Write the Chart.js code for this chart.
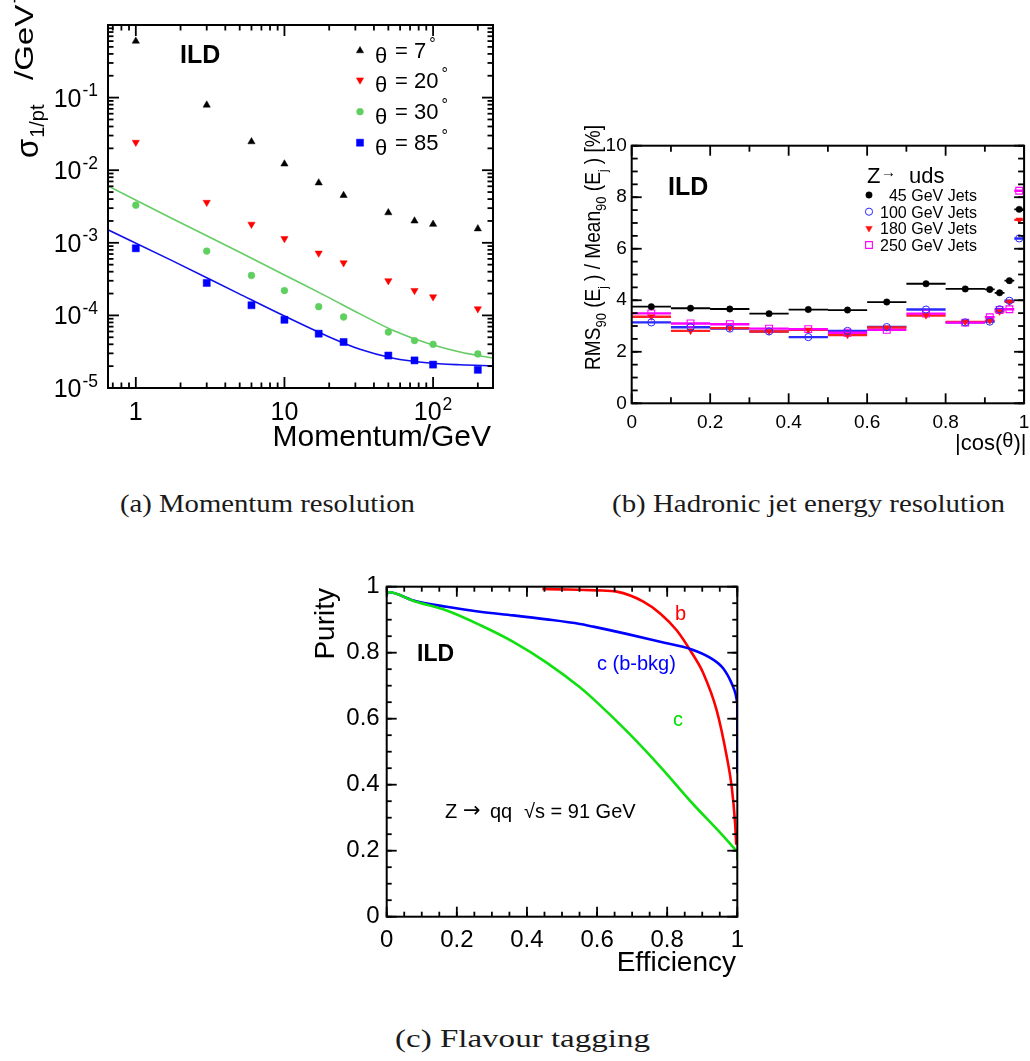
<!DOCTYPE html>
<html>
<head>
<meta charset="utf-8">
<script src="https://cdn.jsdelivr.net/npm/chart.js@4.4.1/dist/chart.umd.min.js"></script>
<style>
html, body { margin: 0; padding: 0; background: #fff; }
body { width: 1030px; height: 1061px; position: relative; overflow: hidden; }
canvas { position: absolute; }
.cap { position: absolute; font-family: "Liberation Serif", "Times New Roman", serif; font-size: 25px;
       line-height: 26px; color: #1a1a1a; white-space: nowrap; transform-origin: 0 0; }
</style>
</head>
<body>
<canvas id="momentum" width="510" height="470" style="left:0px;top:0px"></canvas>
<canvas id="jets" width="510" height="380" style="left:520px;top:100px"></canvas>
<canvas id="flavour" width="470" height="430" style="left:290px;top:560px"></canvas>
<div class="cap" data-w="295" style="left:120px;top:491px">(a) Momentum resolution</div>
<div class="cap" data-w="393" style="left:612px;top:491px">(b) Hadronic jet energy resolution</div>
<div class="cap" data-w="255" style="left:395px;top:1026px">(c) Flavour tagging</div>
<script>
// ---- (a) momentum resolution vs momentum, four polar angles
const momentum = [1, 3, 6, 10, 17, 25, 50, 75, 100, 200];
const anglesDeg = [7, 20, 30, 85];
const theta7  = [0.60, 0.079, 0.0247, 0.0122, 0.0067, 0.0045, 0.0026, 0.0020, 0.0018, 0.00156];
const theta20 = [0.0242, 0.0036, 0.0018, 0.00114, 0.00072, 0.00053, 0.00030, 0.00022, 0.00018, 0.000123];
const theta30 = [0.0033, 0.00077, 0.000355, 0.00022, 0.000132, 0.000095, 0.000059, 0.000045, 0.000040, 0.0000295];
const theta85 = [0.00084, 0.00028, 0.000138, 0.000087, 0.000056, 0.000043, 0.000028, 0.000024, 0.000021, 0.0000178];
// resolution curves for 30 and 85 degrees
const fitMomentum = [0.65, 1.74, 4.89, 10.07, 19.2, 32.2, 54.0, 90.7, 152, 253];
const fit30 = [0.00608, 0.00218, 0.000758, 0.000357, 0.000183, 0.000105, 0.0000619, 0.0000416, 0.0000313, 0.0000258];
const fit85 = [0.00151, 0.000573, 0.000201, 0.0000972, 0.0000524, 0.0000341, 0.0000257, 0.0000223, 0.0000209, 0.0000202];
const momTicks = [1, 10, 100];
const momTickText = [['1', ''], ['10', ''], ['10', '2']];
const resTicks = [1e-5, 1e-4, 1e-3, 1e-2, 1e-1];
const resTickExp = ['-5', '-4', '-3', '-2', '-1'];

// ---- (b) jet energy resolution vs |cos(theta)|
const jetBinLo = [0, 0.1, 0.2, 0.3, 0.4, 0.5, 0.6, 0.7, 0.8, 0.9, 0.925, 0.95, 0.975];
const jetBinHi = [0.1, 0.2, 0.3, 0.4, 0.5, 0.6, 0.7, 0.8, 0.9, 0.925, 0.95, 0.975, 1.0];
const cosTheta = [0.05, 0.15, 0.25, 0.35, 0.45, 0.55, 0.65, 0.75, 0.85, 0.9125, 0.9375, 0.9625, 0.9875];
const jets45  = [3.75, 3.69, 3.66, 3.48, 3.64, 3.62, 3.93, 4.64, 4.44, 4.42, 4.29, 4.76, 7.53];
const jets100 = [3.14, 2.95, 2.90, 2.79, 2.57, 2.81, 2.96, 3.64, 3.14, 3.17, 3.65, 3.98, 6.40];
const jets180 = [3.36, 2.81, 2.92, 2.79, 2.85, 2.65, 2.94, 3.41, 3.16, 3.21, 3.56, 3.94, 7.12];
const jets250 = [3.49, 3.10, 3.07, 2.90, 2.88, 2.74, 2.85, 3.48, 3.13, 3.34, 3.62, 3.65, 8.25];
const jetLabels = ['45 GeV Jets', '100 GeV Jets', '180 GeV Jets', '250 GeV Jets'];

// ---- (c) purity vs efficiency
const effB  = [0.444, 0.494, 0.600, 0.656, 0.732, 0.780, 0.827, 0.870, 0.903, 0.941, 0.970, 0.984, 0.9937, 0.997];
const purB  = [0.993, 0.992, 0.989, 0.985, 0.955, 0.919, 0.868, 0.800, 0.738, 0.626, 0.485, 0.394, 0.283, 0.218];
const effCb = [0, 0.007, 0.076, 0.171, 0.266, 0.361, 0.456, 0.551, 0.589, 0.684, 0.780, 0.870, 0.922, 0.960, 0.984, 0.995, 1.0, 1.0];
const purCb = [0.978, 0.983, 0.958, 0.939, 0.924, 0.913, 0.901, 0.887, 0.879, 0.857, 0.833, 0.810, 0.785, 0.752, 0.707, 0.675, 0.647, 0.435];
const effC  = [0, 0.007, 0.076, 0.171, 0.266, 0.361, 0.456, 0.551, 0.589, 0.684, 0.780, 0.875, 0.951, 1.0, 1.0];
const purC  = [0.978, 0.983, 0.957, 0.928, 0.884, 0.833, 0.770, 0.695, 0.660, 0.563, 0.455, 0.340, 0.255, 0.197, 0.172];

Chart.defaults.font.family = '"Liberation Sans", Arial, Helvetica, sans-serif';
Chart.defaults.color = '#000';
Chart.defaults.animation = false;
Chart.defaults.events = [];
Chart.defaults.plugins.legend.display = false;
Chart.defaults.plugins.tooltip.enabled = false;

const SANS = '"Liberation Sans", Arial, Helvetica, sans-serif';
const F = (size, bold) => (bold ? 'bold ' : '') + size + 'px ' + SANS;
const toPoints = (xs, ys) => xs.map((x, i) => ({ x, y: ys[i] }));
const tickText = v => String(Math.round(v * 100) / 100);

// pins the plot frame to fixed pixel edges inside the canvas
function frameBox(W, H, L, T, R, B) {
  const zero = s => { s.paddingLeft = s.paddingRight = s.paddingTop = s.paddingBottom = 0; };
  return {
    padding: { left: 0, top: T, right: W - R, bottom: 0 },
    fitX: s => { s.height = H - B; zero(s); },
    fitY: s => { s.width = L; zero(s); }
  };
}

function logMinors(lo, hi) {
  const out = [];
  for (let d = -6; d <= 3; d++) {
    for (let m = 2; m <= 9; m++) {
      const v = m * Math.pow(10, d);
      if (v > lo && v < hi) out.push(v);
    }
  }
  return out;
}
function linSteps(lo, hi, step) {
  const out = [];
  for (let i = 0; lo + i * step <= hi + 1e-9; i++) out.push(+(lo + i * step).toFixed(6));
  return out;
}

// inward tick marks on all four sides plus the box
function frameTicks(t) {
  return {
    id: 'frameTicks',
    afterDraw(chart) {
      const ctx = chart.ctx;
      const a = chart.chartArea;
      const sx = chart.scales.x;
      const sy = chart.scales.y;
      ctx.save();
      ctx.strokeStyle = '#000';
      ctx.lineWidth = 1.8;
      const seg = (x1, y1, x2, y2) => {
        ctx.beginPath();
        ctx.moveTo(x1, y1);
        ctx.lineTo(x2, y2);
        ctx.stroke();
      };
      const tickX = (v, len) => {
        const p = sx.getPixelForValue(v);
        seg(p, a.bottom, p, a.bottom - len);
        seg(p, a.top, p, a.top + len);
      };
      const tickY = (v, len) => {
        const p = sy.getPixelForValue(v);
        seg(a.left, p, a.left + len, p);
        seg(a.right, p, a.right - len, p);
      };
      t.xMajor.forEach(v => tickX(v, t.majorLen));
      t.xMinor.forEach(v => tickX(v, t.minorLen));
      t.yMajor.forEach(v => tickY(v, t.majorLen));
      t.yMinor.forEach(v => tickY(v, t.minorLen));
      ctx.lineWidth = 2;
      ctx.strokeRect(a.left, a.top, a.right - a.left, a.bottom - a.top);
      ctx.restore();
    }
  };
}

function text(ctx, s, x, y, font, color, align) {
  ctx.font = font;
  ctx.fillStyle = color || '#000';
  ctx.textAlign = align || 'left';
  ctx.textBaseline = 'alphabetic';
  ctx.fillText(s, x, y);
}

// runs of text with their own size and baseline shift, optionally rotated and stretched
function rich(ctx, segs, x, y, rot, fitLen, stretch) {
  ctx.save();
  ctx.translate(x, y);
  ctx.rotate(rot || 0);
  ctx.textAlign = 'left';
  ctx.textBaseline = 'alphabetic';
  let w = 0;
  segs.forEach(s => { ctx.font = s.font; w += ctx.measureText(s.t).width + (s.gap || 0); });
  if (fitLen) ctx.scale(fitLen / w, 1);
  else if (stretch) ctx.scale(stretch, 1);
  let cx = 0;
  segs.forEach(s => {
    ctx.font = s.font;
    ctx.fillStyle = s.color || '#000';
    cx += s.gap || 0;
    ctx.fillText(s.t, cx, s.dy || 0);
    cx += ctx.measureText(s.t).width;
  });
  ctx.restore();
}

function powLabel(ctx, base, exp, x, baseline, align, size) {
  ctx.font = F(size);
  const wb = ctx.measureText(base).width;
  ctx.font = F(size * 0.7);
  const we = exp ? ctx.measureText(exp).width + 1 : 0;
  const x0 = align === 'right' ? x - wb - we : x - (wb + we) / 2;
  text(ctx, base, x0, baseline, F(size));
  if (exp) text(ctx, exp, x0 + wb + 1, baseline - size * 0.42, F(size * 0.7));
}

function marker(ctx, style, x, y) {
  ctx.save();
  ctx.fillStyle = style.fill;
  ctx.strokeStyle = style.stroke;
  ctx.lineWidth = style.borderWidth;
  Chart.helpers.drawPoint(ctx, { pointStyle: style.pointStyle, rotation: style.rotation || 0,
    radius: style.radius, borderWidth: style.borderWidth }, x, y);
  ctx.restore();
}

// ================= (a) =================
const boxA = frameBox(510, 470, 108, 25, 493, 388);
const styleA = [
  { pointStyle: 'triangle', radius: 4.2, rotation: 0, fill: '#000', stroke: '#000', borderWidth: 0.5 },
  { pointStyle: 'triangle', radius: 4.2, rotation: 180, fill: '#ff0000', stroke: '#ff0000', borderWidth: 0.5 },
  { pointStyle: 'circle', radius: 3.4, rotation: 0, fill: '#5fcf5f', stroke: '#5fcf5f', borderWidth: 0.5 },
  { pointStyle: 'rect', radius: 5, rotation: 0, fill: '#0000ff', stroke: '#0000ff', borderWidth: 0.5 }
];
const seriesA = [theta7, theta20, theta30, theta85];

const momentumLabels = {
  id: 'momentumLabels',
  afterDraw(chart) {
    const { ctx, scales: { x, y } } = chart;
    ctx.save();
    momTicks.forEach((v, i) => powLabel(ctx, momTickText[i][0], momTickText[i][1], x.getPixelForValue(v), 420, 'center', 25));
    resTicks.forEach((v, i) => powLabel(ctx, '10', resTickExp[i], 98, y.getPixelForValue(v) + 9, 'right', 25));
    text(ctx, 'Momentum/GeV', 491, 446, F(30), '#000', 'right');
    rich(ctx, [
      { t: 'σ', font: F(31) },
      { t: '1/pt', font: F(20), dy: 5.5, gap: 1 }
    ], 38, 158, -Math.PI / 2);
    rich(ctx, [
      { t: '/GeV', font: F(26) },
      { t: '-1', font: F(18), dy: -13, gap: 1 }
    ], 33, 80, -Math.PI / 2, 0, 1.27);
    text(ctx, 'ILD', 180, 63, F(25, true));
    const rows = [50.7, 80, 111.7, 142.7];
    anglesDeg.forEach((deg, i) => {
      marker(ctx, styleA[i], 360, rows[i]);
      text(ctx, 'θ', 375, rows[i] + 12, F(22));
      ctx.font = F(22);
      const w = ctx.measureText('= ' + deg).width;
      text(ctx, '= ' + deg, 395, rows[i] + 7.5, F(22));
      text(ctx, '°', 398 + w, rows[i] - 1.5, F(16));
    });
    ctx.restore();
  }
};

new Chart(document.getElementById('momentum'), {
  type: 'scatter',
  data: {
    datasets: [
      ...seriesA.map((vals, i) => ({
        label: 'θ = ' + anglesDeg[i] + '°',
        data: toPoints(momentum, vals),
        pointStyle: styleA[i].pointStyle,
        pointRotation: styleA[i].rotation,
        pointRadius: styleA[i].radius,
        pointBackgroundColor: styleA[i].fill,
        pointBorderColor: styleA[i].stroke,
        pointBorderWidth: styleA[i].borderWidth
      })),
      { label: 'fit 30', data: toPoints(fitMomentum, fit30), showLine: true, pointRadius: 0,
        borderColor: '#66cc66', borderWidth: 1.6, cubicInterpolationMode: 'monotone' },
      { label: 'fit 85', data: toPoints(fitMomentum, fit85), showLine: true, pointRadius: 0,
        borderColor: '#1010ee', borderWidth: 1.6, cubicInterpolationMode: 'monotone' }
    ]
  },
  options: {
    responsive: false,
    layout: { padding: boxA.padding },
    scales: {
      x: { type: 'logarithmic', min: 0.65, max: 253, afterFit: boxA.fitX,
           grid: { display: false, drawTicks: false }, border: { display: false }, ticks: { display: false } },
      y: { type: 'logarithmic', min: 1e-5, max: 1, afterFit: boxA.fitY,
           grid: { display: false, drawTicks: false }, border: { display: false }, ticks: { display: false } }
    }
  },
  plugins: [frameTicks({
    xMajor: momTicks, xMinor: logMinors(0.65, 253),
    yMajor: resTicks, yMinor: logMinors(1e-5, 1),
    majorLen: 11, minorLen: 5.5
  }), momentumLabels]
});

// ================= (b) =================
const boxB = frameBox(510, 380, 111.7, 45.7, 506, 303.3);
const styleB = [
  { pointStyle: 'circle', radius: 3.2, rotation: 0, fill: '#000', stroke: '#000', borderWidth: 0.5, bar: '#000', barWidth: 1.8 },
  { pointStyle: 'circle', radius: 3.6, rotation: 0, fill: 'rgba(0,0,0,0)', stroke: '#2a2aff', borderWidth: 1, bar: '#2a2aff', barWidth: 2.4 },
  { pointStyle: 'triangle', radius: 3.8, rotation: 180, fill: '#ff1010', stroke: '#ff1010', borderWidth: 0.5, bar: '#ff2020', barWidth: 2.4 },
  { pointStyle: 'rect', radius: 4.8, rotation: 0, fill: 'rgba(0,0,0,0)', stroke: '#ff00ff', borderWidth: 1.1, bar: '#ff00ff', barWidth: 2.4 }
];
const seriesB = [jets45, jets100, jets180, jets250];

// horizontal bars spanning each |cos(theta)| bin
const binBars = {
  id: 'binBars',
  beforeDatasetsDraw(chart) {
    const { ctx, scales: { x, y } } = chart;
    ctx.save();
    seriesB.forEach((vals, i) => {
      ctx.strokeStyle = styleB[i].bar;
      ctx.lineWidth = styleB[i].barWidth;
      ctx.beginPath();
      vals.forEach((v, j) => {
        const py = y.getPixelForValue(v);
        ctx.moveTo(x.getPixelForValue(jetBinLo[j]), py);
        ctx.lineTo(x.getPixelForValue(jetBinHi[j]), py);
      });
      ctx.stroke();
    });
    ctx.restore();
  }
};

const jetLabelsPlugin = {
  id: 'jetLabels',
  afterDraw(chart) {
    const { ctx } = chart;
    ctx.save();
    ctx.translate(-520, -100);
    text(ctx, 'ILD', 668, 195, F(25, true));
    text(ctx, 'Z', 867, 183, F(22));
    text(ctx, '→', 881, 177, F(15));
    text(ctx, 'uds', 909, 183, F(22));
    const rows = [195, 211.7, 228.3, 245];
    jetLabels.forEach((lab, i) => {
      marker(ctx, styleB[i], 869, rows[i]);
      text(ctx, lab, 977, rows[i] + 6, F(16), '#000', 'right');
    });
    // x title, right aligned on the frame edge
    const xs = [
      { t: '|cos(', font: F(22) },
      { t: 'θ', font: F(20), dy: -3 },
      { t: ')|', font: F(22) }
    ];
    let w = 0;
    xs.forEach(s => { ctx.font = s.font; w += ctx.measureText(s.t).width; });
    rich(ctx, xs, 1026.5 - w, 450, 0);
    rich(ctx, [
      { t: 'RMS', font: F(22) },
      { t: '90', font: F(15), dy: 6 },
      { t: ' (E', font: F(22) },
      { t: 'j', font: F(13), dy: 7 },
      { t: ' ) / Mean', font: F(22) },
      { t: '90', font: F(15), dy: 6 },
      { t: ' (E', font: F(22) },
      { t: 'j', font: F(13), dy: 7 },
      { t: ' ) [%]', font: F(22) }
    ], 600, 370, -Math.PI / 2, 245);
    ctx.restore();
  }
};

new Chart(document.getElementById('jets'), {
  type: 'scatter',
  data: {
    datasets: seriesB.map((vals, i) => ({
      label: jetLabels[i],
      data: toPoints(cosTheta, vals),
      pointStyle: styleB[i].pointStyle,
      pointRotation: styleB[i].rotation,
      pointRadius: styleB[i].radius,
      pointBackgroundColor: styleB[i].fill,
      pointBorderColor: styleB[i].stroke,
      pointBorderWidth: styleB[i].borderWidth
    }))
  },
  options: {
    responsive: false,
    layout: { padding: boxB.padding },
    scales: {
      x: { type: 'linear', min: 0, max: 1, afterFit: boxB.fitX,
           grid: { display: false, drawTicks: false }, border: { display: false },
           ticks: { stepSize: 0.2, padding: 8, maxRotation: 0, font: { size: 19 }, color: '#000', callback: tickText } },
      y: { type: 'linear', min: 0, max: 10, afterFit: boxB.fitY,
           grid: { display: false, drawTicks: false }, border: { display: false },
           ticks: { stepSize: 2, padding: 5, font: { size: 19 }, color: '#000', callback: tickText } }
    }
  },
  plugins: [binBars, frameTicks({
    xMajor: linSteps(0, 1, 0.2), xMinor: linSteps(0.1, 0.9, 0.2),
    yMajor: linSteps(0, 10, 2), yMinor: linSteps(0, 10, 0.5),
    majorLen: 10, minorLen: 6
  }), jetLabelsPlugin]
});

// ================= (c) =================
const boxC = frameBox(470, 430, 96.7, 26.7, 447.3, 356.7);

const flavourLabels = {
  id: 'flavourLabels',
  afterDraw(chart) {
    const { ctx } = chart;
    ctx.save();
    ctx.translate(-290, -560);
    text(ctx, 'ILD', 417, 661, F(23, true));
    text(ctx, 'b', 675, 620, F(20), '#ff0000');
    text(ctx, 'c (b-bkg)', 597, 670, F(20), '#0000ff');
    text(ctx, 'c', 673, 726, F(20), '#00e000');
    text(ctx, 'Z', 445, 818, F(20));
    text(ctx, '→', 463, 817, '21px "DejaVu Sans", sans-serif');
    text(ctx, 'qq', 490, 818, F(20));
    text(ctx, '√', 524, 818, F(20));
    text(ctx, 's = 91 GeV', 535, 818, F(20));
    text(ctx, 'Efficiency', 736, 971, F(28), '#000', 'right');
    ctx.save();
    ctx.translate(334, 588);
    ctx.rotate(-Math.PI / 2);
    text(ctx, 'Purity', 0, 0, F(28), '#000', 'right');
    ctx.restore();
    ctx.restore();
  }
};

// the vertical drop at full efficiency is drawn as its own straight piece
const curveC = (xs, ys, color, tail) => {
  const n = tail ? xs.length - 1 : xs.length;
  const sets = [{ data: toPoints(xs.slice(0, n), ys.slice(0, n)), showLine: true, pointRadius: 0,
    borderColor: color, borderWidth: 2.6, cubicInterpolationMode: 'monotone' }];
  if (tail) sets.push({ data: toPoints(xs.slice(-2), ys.slice(-2)), showLine: true, pointRadius: 0,
    borderColor: color, borderWidth: 2.6 });
  return sets;
};

new Chart(document.getElementById('flavour'), {
  type: 'scatter',
  data: {
    datasets: [
      ...curveC(effC, purC, '#10e010', true),
      ...curveC(effCb, purCb, '#0000ff', true),
      ...curveC(effB, purB, '#ff0000', false)
    ]
  },
  options: {
    responsive: false,
    layout: { padding: boxC.padding },
    scales: {
      x: { type: 'linear', min: 0, max: 1, afterFit: boxC.fitX,
           grid: { display: false, drawTicks: false }, border: { display: false },
           ticks: { stepSize: 0.2, padding: 9, maxRotation: 0, font: { size: 24 }, color: '#000', callback: tickText } },
      y: { type: 'linear', min: 0, max: 1, afterFit: boxC.fitY,
           grid: { display: false, drawTicks: false }, border: { display: false },
           ticks: { stepSize: 0.2, padding: 7, font: { size: 24 }, color: '#000', callback: tickText } }
    }
  },
  plugins: [frameTicks({
    xMajor: linSteps(0, 1, 0.2), xMinor: linSteps(0, 1, 0.05),
    yMajor: linSteps(0, 1, 0.2), yMinor: linSteps(0, 1, 0.05),
    majorLen: 10, minorLen: 5
  }), flavourLabels]
});

// stretch the captions to their set widths
const probe = document.createElement('canvas').getContext('2d');
probe.font = '25px "Liberation Serif", "Times New Roman", serif';
document.querySelectorAll('.cap').forEach(el => {
  const natural = probe.measureText(el.textContent).width;
  el.style.transform = 'scaleX(' + (+el.dataset.w / natural).toFixed(3) + ')';
});
</script>
</body>
</html>
